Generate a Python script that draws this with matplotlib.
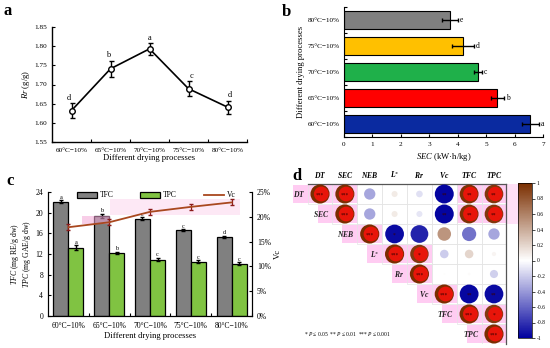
import matplotlib
matplotlib.use('Agg')
import matplotlib.pyplot as plt
import numpy as np
from matplotlib.colors import LinearSegmentedColormap, Normalize
from matplotlib.patches import Rectangle
from matplotlib.lines import Line2D
from matplotlib.patches import Patch
import matplotlib.transforms as mtransforms

plt.rcParams['font.family'] = ['Liberation Serif', 'DejaVu Serif']
plt.rcParams['mathtext.fontset'] = 'custom'
plt.rcParams['mathtext.it'] = 'Liberation Serif:italic'
plt.rcParams['mathtext.rm'] = 'Liberation Serif'
plt.rcParams['mathtext.bf'] = 'Liberation Serif:bold'
plt.rcParams['mathtext.bfit'] = 'Liberation Serif:bold:italic'

# ---------------- data ----------------
processes = ['60°C−10%', '65°C−10%', '70°C−10%', '75°C−10%', '80°C−10%']

rr = [1.632, 1.741, 1.793, 1.689, 1.641]
rr_err = [0.020, 0.021, 0.015, 0.020, 0.017]
rr_letters = ['d', 'b', 'a', 'c', 'd']

sec = [6.56, 5.39, 4.71, 4.19, 3.72]
sec_err = [0.29, 0.23, 0.15, 0.38, 0.28]
sec_letters = ['a', 'b', 'c', 'd', 'e']

tfc = [22.1, 19.4, 18.8, 16.6, 15.3]
tfc_err = [0.30, 0.35, 0.30, 0.20, 0.25]
tfc_letters = ['a', 'b', 'c', 'c', 'd']
tpc = [13.2, 12.2, 10.9, 10.5, 10.1]
tpc_err = [0.50, 0.25, 0.35, 0.30, 0.30]
tpc_letters = ['a', 'b', 'c', 'c', 'c']
vc = [17.9, 18.9, 21.0, 22.0, 22.9]
vc_err = [0.6, 0.6, 0.6, 0.6, 0.6]

variables = ['DT', 'SEC', 'NEB', 'L*', 'Rr', 'Vc', 'TFC', 'TPC']
corr_rows = [
    [1.00, 0.99, -0.35, 0.10, -0.12, -0.98, 0.97, 0.95],
    [1.00, -0.35, 0.10, -0.10, -0.98, 0.97, 0.95],
    [1.00, -0.96, -0.86, 0.50, -0.55, -0.35],
    [1.00, 0.93, -0.20, 0.20, 0.05],
    [1.00, 0.01, 0.02, -0.18],
    [1.00, -0.97, -0.96],
    [1.00, 0.93],
    [1.00],
]
sig_rows = [
    ['***', '***', '', '', '', '**', '**', '**'],
    ['***', '', '', '', '**', '**', '**'],
    ['***', '*', '', '', '', ''],
    ['***', '*', '', '', ''],
    ['***', '', '', ''],
    ['***', '**', '**'],
    ['***', '*'],
    ['***'],
]

W, H = 550, 348
fig = plt.figure(figsize=(W / 100, H / 100), dpi=100)


def ax_px(l, t, r, b):
    return fig.add_axes([l / W, 1 - b / H, (r - l) / W, (b - t) / H])


def panel_letter(x, y, s):
    fig.text(x / W, 1 - y / H, s, fontsize=12, fontweight='bold', ha='left', va='center')


x = np.arange(len(processes))
TFS = 5.2   # tick font size
LFS = 6.2   # label font size

# ---------------- panel a ----------------
axa = ax_px(52, 27, 247, 142)
axa.errorbar(x, rr, yerr=rr_err, color='black', lw=1.2, capsize=1.8, elinewidth=1.0,
             marker='o', ms=4, mfc='white', mec='black', mew=1.0, zorder=3)
for xi, v, e, l in zip(x, rr, rr_err, rr_letters):
    axa.annotate(l, (xi, v + e), xytext=(-2 if xi < 2 else (0 if xi == 2 else 2), 1),
                 textcoords='offset points', ha='center', va='bottom', fontsize=6)
axa.set_xlim(-0.5, 4.5)
axa.set_ylim(1.55, 1.85)
axa.set_yticks(np.arange(1.55, 1.851, 0.05))
axa.set_yticklabels([f'{v:.2f}' for v in np.arange(1.55, 1.851, 0.05)])
axa.set_xticks(x)
axa.set_xticklabels(processes)
axa.set_xticks(np.arange(0.5, 4.6, 1), minor=True)
axa.tick_params(axis='x', which='major', length=0, labelsize=TFS, pad=4)
axa.tick_params(axis='x', which='minor', length=2.5, direction='in', width=0.8)
axa.tick_params(axis='y', length=2.5, direction='in', labelsize=TFS, width=0.8)
for s in ['top', 'right']:
    axa.spines[s].set_visible(False)
for s in ['left', 'bottom']:
    axa.spines[s].set_linewidth(1.0)
axa.set_xlabel('Different drying processes', fontsize=LFS, labelpad=1)
axa.set_ylabel(r'$\it{Rr}$ (g/g)', fontsize=LFS, labelpad=2)
panel_letter(4, 11, 'a')

# ---------------- panel b ----------------
axb = ax_px(344, 7, 543, 137)
bar_colors = ['#0A2AA0', '#FF0000', '#1FB04A', '#FFC000', '#808080']
axb.barh(x, sec, height=0.66, color=bar_colors, edgecolor='black', lw=0.8, zorder=2)
axb.errorbar(sec, x, xerr=sec_err, fmt='none', ecolor='black', elinewidth=1.0, capsize=1.5, zorder=3)
for xi, v, e, l in zip(x, sec, sec_err, sec_letters):
    axb.annotate(l, (v + e, xi), xytext=(1.5, 0), textcoords='offset points',
                 ha='left', va='center', fontsize=5.5)
axb.set_xlim(0, 7)
axb.set_ylim(-0.45, 4.5)
axb.set_xticks(range(0, 8))
axb.set_yticks(x)
axb.set_yticklabels(processes)
axb.set_yticks(np.arange(-0.5, 4.6, 1), minor=True)
axb.tick_params(axis='y', which='major', length=0, labelsize=TFS, pad=3)
axb.tick_params(axis='y', which='minor', length=2.5, direction='in', width=0.8)
axb.tick_params(axis='x', length=2.5, direction='in', labelsize=TFS, width=0.8)
for s in ['top', 'right']:
    axb.spines[s].set_visible(False)
axb.set_xlabel(r'$\it{SEC}$ (kW·h/kg)', fontsize=LFS, labelpad=3)
axb.set_ylabel('Different drying processes', fontsize=LFS, labelpad=2)
panel_letter(282, 12, 'b')

# ---------------- panel c ----------------
axc = ax_px(48, 192, 252, 316)
bw = 0.37
# light highlight artifacts
axc.add_patch(Rectangle((0.33, 17.9), 0.68, 1.4, facecolor='#F4A6D6', alpha=0.55, lw=0, zorder=4))
axc.add_patch(Rectangle((1.01, 19.5), 3.2, 3.2, facecolor='#FDE3F3', alpha=0.8, lw=0, zorder=0))
axc.bar(x - bw / 2, tfc, width=bw, color='#808080', edgecolor='black', lw=0.9, zorder=2, label='TFC')
axc.bar(x + bw / 2, tpc, width=bw, color='#80C342', edgecolor='black', lw=0.9, zorder=2, label='TPC')
axc.errorbar(x - bw / 2, tfc, yerr=tfc_err, fmt='none', ecolor='black', elinewidth=1.0, capsize=1.5, zorder=3)
axc.errorbar(x + bw / 2, tpc, yerr=tpc_err, fmt='none', ecolor='black', elinewidth=1.0, capsize=1.5, zorder=3)
for xi, v, e, l in zip(x, tfc, tfc_err, tfc_letters):
    axc.annotate(l, (xi - bw / 2, v + e), xytext=(0, 0.5), textcoords='offset points',
                 ha='center', va='bottom', fontsize=4.5)
for xi, v, e, l in zip(x, tpc, tpc_err, tpc_letters):
    axc.annotate(l, (xi + bw / 2, v + e), xytext=(0, 0.5), textcoords='offset points',
                 ha='center', va='bottom', fontsize=4.5)
axc.set_xlim(-0.5, 4.5)
axc.set_ylim(0, 24)
axc.set_yticks(range(0, 25, 4))
axc.set_xticks(x)
axc.set_xticklabels(processes)
axc.set_xticks(np.arange(0.5, 4.6, 1), minor=True)
axc.tick_params(axis='x', which='major', length=0, labelsize=TFS + 0.3, pad=4)
axc.tick_params(axis='x', which='minor', length=2.5, direction='in', width=0.8)
axc.tick_params(axis='y', length=2.5, direction='in', labelsize=TFS + 0.3, width=0.8)
axc.spines['top'].set_visible(False)
axc.set_xlabel('Different drying processes', fontsize=LFS, labelpad=2)
axc.set_ylabel(r'$\it{TFC}$ (mg RE/g dw)' + '\n' + r'$\it{TPC}$ (mg GAE/g dw)',
               fontsize=5.6, labelpad=2, linespacing=1.0)

axc2 = axc.twinx()
axc2.errorbar(x, vc, yerr=vc_err, color='#A9481F', lw=1.3, ecolor='#8B1A1A',
              elinewidth=0.9, capsize=1.5, zorder=5, label='Vc')
axc2.set_ylim(0, 25)
axc2.set_yticks(range(0, 26, 5))
axc2.set_yticklabels([f'{v}%' for v in range(0, 26, 5)])
axc2.tick_params(axis='y', length=2.5, direction='in', labelsize=TFS + 0.3, width=0.8)
axc2.spines['top'].set_visible(False)
axc2.set_ylabel('Vc', fontsize=LFS, labelpad=2)

handles = [Patch(facecolor='#808080', edgecolor='black', lw=0.9),
           Patch(facecolor='#80C342', edgecolor='black', lw=0.9),
           Line2D([0], [0], color='#A9481F', lw=1.3)]
axc.legend(handles, ['TFC', 'TPC', 'Vc'], loc='upper center', bbox_to_anchor=(0.53, 1.06),
           ncol=3, frameon=False, fontsize=5.5, handlelength=2.6, handleheight=0.9,
           columnspacing=3.5, handletextpad=0.4)
panel_letter(6, 181, 'c')

# ---------------- panel d ----------------
n = len(variables)
corr = np.full((n, n), np.nan)
sig = [[''] * n for _ in range(n)]
for i, row in enumerate(corr_rows):
    for k, v in enumerate(row):
        corr[i, i + k] = v
        sig[i][i + k] = sig_rows[i][k]

cmap = LinearSegmentedColormap.from_list('bwbr', ['#00009E', '#FFFFFF', '#7A2E00'])
norm = Normalize(-1, 1)

axd = ax_px(307.6, 184, 506.4, 344)
axd.set_xlim(-0.5, n - 0.5)
axd.set_ylim(n - 0.5, -0.5)
for s in ['left', 'bottom']:
    axd.spines[s].set_visible(False)
for s in ['top', 'right']:
    axd.spines[s].set_linewidth(0.9)
    axd.spines[s].set_color('#555555')
axd.set_yticks([])
axd.xaxis.tick_top()
axd.set_xticks(range(n))
axd.set_xticklabels([r'$\mathbfit{' + v.replace('*', r'^{*}') + '}$' for v in variables])
axd.tick_params(axis='x', length=0, labelsize=5.5, pad=3)

pink = '#FFCCF2'
for i in range(n):
    for j in range(i, n):
        axd.add_patch(Rectangle((j - 0.5, i - 0.5), 1, 1, facecolor='none',
                                edgecolor='#E4E4E4', lw=0.5, zorder=1))
        if corr[i, j] > 0.9:
            ext = 0.6 if i == j else 0
            axd.add_patch(Rectangle((j - 0.5 - ext, i - 0.45), 1 + ext, 0.9,
                                    facecolor=pink, lw=0, zorder=0.5, clip_on=False))
# pink band beyond top-right
axd.add_patch(Rectangle((7.5, -0.5), 0.45, 2.0, facecolor='#FFE0F6', lw=0, zorder=0.5, clip_on=False))

ii, jj = np.where(~np.isnan(corr))
vals = corr[ii, jj]
smax = 190
axd.scatter(jj, ii, s=np.abs(vals) * smax, c=vals, cmap=cmap, norm=norm, lw=0, zorder=3)
strong = vals > 0.9
offset = mtransforms.offset_copy(axd.transData, fig=fig, x=1.3, y=0, units='dots')
axd.scatter(jj[strong], ii[strong], s=np.abs(vals[strong]) * smax * 0.6, color='#E8150A',
            lw=0, zorder=4, transform=offset)
for i in range(n):
    for j in range(i, n):
        if sig[i][j]:
            axd.text(j, i + 0.08, sig[i][j], ha='center', va='center', fontsize=4,
                     color='#3A0000', zorder=5)
    lab = r'$\mathbfit{' + variables[i].replace('*', r'^{*}') + '}$'
    axd.text(i - 0.6, i, lab, ha='right', va='center', fontsize=5.5, color='#222222', zorder=5)

fig.text(304 / W, 1 - 334 / H, r'* $\it{P}$ ≤ 0.05  ** $\it{P}$ ≤ 0.01  *** $\it{P}$ ≤ 0.001',
         fontsize=4, ha='left', va='center')

cax = ax_px(518, 183, 532, 338)
sm = plt.cm.ScalarMappable(norm=norm, cmap=cmap)
cb = fig.colorbar(sm, cax=cax)
cticks = np.round(np.arange(-1, 1.01, 0.2), 1)
cb.set_ticks(cticks)
cb.set_ticklabels(['-1' if t == -1 else ('1' if t == 1 else ('0' if t == 0 else f'{t:g}')) for t in cticks])
cb.ax.tick_params(labelsize=4, length=2, width=0.5, pad=1.5)
cb.outline.set_linewidth(0.5)
panel_letter(292, 176, 'd')

fig.savefig('out.png', dpi=100)
